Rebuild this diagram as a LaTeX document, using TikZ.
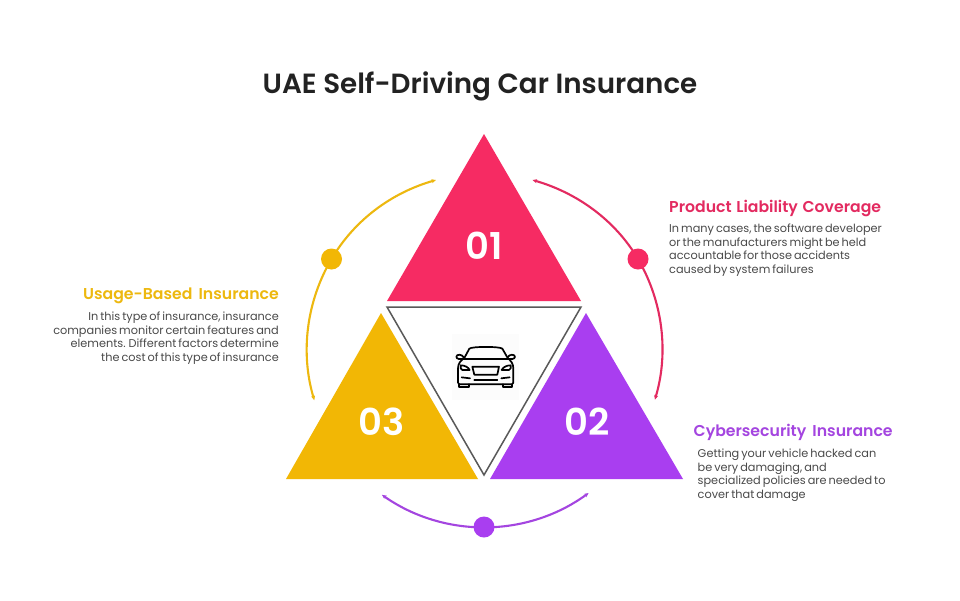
\documentclass[tikz,border=0pt]{standalone}
\usepackage{fontspec}
\setmainfont{Poppins}
\newfontfamily\semifont{Poppins SemiBold}
\usetikzlibrary{arrows.meta}
\definecolor{pinkc}{HTML}{F62B63}
\definecolor{headpink}{HTML}{E32A60}
\definecolor{purpc}{HTML}{A93EF0}
\definecolor{arcpurp}{HTML}{A445E0}
\definecolor{yellc}{HTML}{F2B705}
\definecolor{arcyell}{HTML}{EDB80F}
\definecolor{inkc}{HTML}{222222}
\definecolor{bodyc}{HTML}{4A4A4A}
\newcommand{\myheadfont}{\fontsize{15.7}{18}\selectfont\semifont\spaceskip=6.2pt\relax}
\newcommand{\myheadfontb}{\fontsize{15.7}{18}\selectfont\semifont\spaceskip=4.7pt\relax}
\newcommand{\myparafont}{\fontsize{11.3}{13.4}\selectfont\spaceskip=2pt\relax}
\tikzset{
  x=1pt,y=-1pt,
  tri/.style={fill=#1,draw=none},
  num/.style={text=white,font=\fontsize{37}{37}\selectfont\semifont,inner sep=0pt,anchor=center},
  dot/.style={circle,fill=#1,draw=none,minimum size=21pt,inner sep=0pt},
  ring/.style={draw=#1,line width=2.1pt,{Stealth[length=4.5pt,width=4pt]}-{Stealth[length=4.5pt,width=4pt]}},
  head/.style={font=\myheadfont,text=#1,inner sep=0pt},
  para/.style={font=\myparafont,text=bodyc,inner sep=0pt},
  carline/.style={draw=black,line width=1.7pt,line join=round,line cap=round},
}
\begin{document}
\begin{tikzpicture}
\useasboundingbox (0,0) rectangle (960,600);
\fill[white] (0,0) rectangle (960,600);
\node[font=\fontsize{27.75}{32}\selectfont\semifont,text=inkc,inner sep=0pt] (title) at (480,86) {UAE Self-Driving Car Insurance};

% triangles
\fill[tri=pinkc] (484,134) -- (581,301) -- (387,301) -- cycle;
\fill[tri=purpc] (586,313) -- (683,479) -- (490,479) -- cycle;
\fill[tri=yellc] (381,313) -- (478,479) -- (286,479) -- cycle;
\draw[draw=black!65,line width=1.5pt,line join=miter] (387,307) -- (581,307) -- (484,475) -- cycle;

\node[num] (n1) at (484,245.5) {01};
\node[num] (n2) at (587,421.5) {02};
\node[num] (n3) at (381.5,421.5) {03};

% ring arcs
\coordinate (c) at (484,349);
\coordinate (pa) at (532.5,180);
\coordinate (ya) at (436,180);
\coordinate (pd) at (638,259);
\coordinate (yd) at (331.5,259);
\draw[ring=headpink] (pa) .. controls (576.4,192.6) and (614.8,219.6) .. (pd) arc[start angle=30.3,end angle=-16.6,x radius=178,y radius=-178];
\draw[ring=arcpurp] (c) ++(235:178 and -178) coordinate (pb) arc[start angle=235,end angle=306,x radius=178,y radius=-178];
\draw[ring=arcyell] (ya) .. controls (392,192.6) and (354.7,219.6) .. (yd) arc[start angle=149.5,end angle=196.6,x radius=178,y radius=-178];

% ring dots
\node[dot=pinkc] (d1) at (pd) {};
\node[dot=purpc] (d2) at (484,527) {};
\node[dot=yellc] (d3) at (yd) {};

% texts
\node[font=\myheadfontb,text=headpink,inner sep=0pt,anchor=base west] (h1) at (669,212) {Product Liability Coverage};
\node[para,anchor=north west,align=left] (p1) at (669,224) {In many cases, the software developer\\or the manufacturers might be held\\accountable for those accidents\\caused by system failures};
\node[head=arcpurp,anchor=base west] (h2) at (693.5,436) {Cybersecurity Insurance};
\node[para,anchor=north west,align=left] (p2) at (697.5,449) {Getting your vehicle hacked can\\be very damaging, and\\specialized policies are needed to\\cover that damage};
\node[head=arcyell,anchor=base east] (h3) at (279,299) {Usage-Based Insurance};
\node[para,anchor=north east,align=right] (p3) at (279,312) {In this type of insurance, insurance\\companies monitor certain features and\\elements. Different factors determine\\the cost of this type of insurance};

% car icon
\begin{scope}[shift={(420,300)},x=0.3333pt,y=-0.3333pt]
\fill[black!1] (96,102) rectangle (298,300);
\draw[carline] (133,174) -- (148,146) .. controls (155,139) and (240,139) .. (247,146) -- (263,174);
\draw[carline] (118,176) -- (275,176);
\draw[carline] (133,174) .. controls (122,182) and (114,190) .. (114,205) -- (114,248) -- (118,253) -- (276,253) -- (280,248) -- (280,205) .. controls (280,190) and (272,182) .. (263,174);
\draw[carline] (131,172) .. controls (126,162) and (110,162) .. (109,170) .. controls (109,178) and (122,178) .. (128,177);
\draw[carline] (263,172) .. controls (268,162) and (284,162) .. (285,170) .. controls (285,178) and (272,178) .. (266,177);
\draw[carline] (122,196) .. controls (135,196) and (145,202) .. (149,210) -- (127,210) -- (122,205) -- cycle;
\draw[carline] (272,196) .. controls (259,196) and (249,202) .. (245,210) -- (267,210) -- (272,205) -- cycle;
\draw[carline] (157,200) -- (237,200) -- (232,224) -- (163,224) -- cycle;
\draw[carline] (125,232) -- (150,235);
\draw[carline] (269,232) -- (244,235);
\draw[carline] (163,239) -- (232,239);
\draw[carline] (118,253) -- (118,262) -- (146,262) -- (146,253);
\draw[carline] (248,253) -- (248,262) -- (276,262) -- (276,253);
\end{scope}
\end{tikzpicture}
\end{document}
